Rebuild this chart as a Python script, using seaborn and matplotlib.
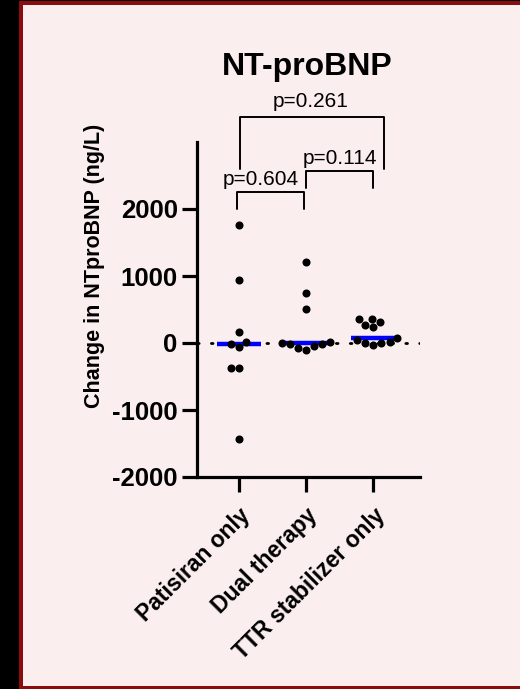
import pandas as pd
import numpy as np
import matplotlib.pyplot as plt
import matplotlib.patches as mpatches
import seaborn as sns
import warnings

warnings.filterwarnings("ignore")

# ── Data ─────────────────────────────────────────────────────────────────────
groups = ["Patisiran only", "Dual therapy", "TTR stabilizer only"]
patisiran = [1766, 943, 169, 15, -20, -55, -370, -380, -1433]
dual = [1213, 753, 509, 10, 5, -15, -15, -50, -70, -105]
ttr = [363, 353, 310, 270, 240, 80, 45, 20, 5, -5, -25]

# pairwise comparisons: (group a, group b, p label)
comparisons = [(0, 1, "p=0.604"), (1, 2, "p=0.114"), (0, 2, "p=0.261")]

df = pd.DataFrame({
    "group": [groups[0]] * len(patisiran) + [groups[1]] * len(dual) + [groups[2]] * len(ttr),
    "change": patisiran + dual + ttr,
})

# ── Style ────────────────────────────────────────────────────────────────────
sns.set_theme(style="ticks")
plt.rcParams["font.family"] = ["Liberation Sans", "DejaVu Sans"]
plt.rcParams.update({
    "text.color": "black",
    "axes.labelcolor": "black",
    "xtick.color": "black",
    "ytick.color": "black",
    "axes.unicode_minus": False,
})

W, H = 520, 689
fig = plt.figure(figsize=(W / 100, H / 100), dpi=100)
fig.patch.set_facecolor("black")

# dark red frame + pink panel (runs off the right edge, so no frame there)
fig.add_artist(mpatches.Rectangle((19 / W, 0), 1.0, 1 - 1 / H, lw=0,
                                  transform=fig.transFigure, facecolor="#8a0c0c", zorder=-10))
fig.add_artist(mpatches.Rectangle((23 / W, 3 / H), 1.0, (686 - 5) / H, lw=0,
                                  transform=fig.transFigure, facecolor="#fbeeee", zorder=-9))

ax = fig.add_axes([196.5 / W, (H - 477) / H, (420 - 196.5) / W, (477 - 142) / H])
ax.set_facecolor("none")

# dotted zero line
ax.axhline(0, color="black", lw=2, ls=(0, (0.6, 4.4)), dash_capstyle="round", zorder=1)

# median bars
med = df.groupby("group")["change"].median().reindex(groups)
ax.hlines(med.values, np.arange(3) - 0.335, np.arange(3) + 0.335,
          color="#0000ff", lw=3.2, zorder=2)

sns.swarmplot(data=df, x="group", y="change", order=groups, color="black",
              size=5.8, ax=ax, zorder=3)

ax.set_xlim(-0.634, 2.70)
ax.set_ylim(-2000, 3000)
ax.set_yticks([-2000, -1000, 0, 1000, 2000])
ax.set_xlabel("")
ax.set_ylabel("Change in NTproBNP (ng/L)", fontsize=15.5, fontweight="bold")
ax.yaxis.set_label_coords(-0.41, 0.63)

sns.despine(ax=ax)
for s in ["left", "bottom"]:
    ax.spines[s].set_linewidth(2.3)
    ax.spines[s].set_color("black")
ax.tick_params(axis="both", width=2.3, length=10.5, color="black")
ax.tick_params(axis="y", labelsize=18.5, pad=3)
ax.tick_params(axis="x", labelsize=16.5, pad=9)
for lab in ax.get_yticklabels():
    lab.set_fontweight("bold")
for lab in ax.get_xticklabels():
    lab.set_fontweight("bold")
    lab.set_rotation(45)
    lab.set_ha("right")
    lab.set_va("top")
    lab.set_rotation_mode("anchor")

# significance brackets
bracket_specs = [
    # (x left, x right, top, leg bottom, text x, text y)
    (-0.03, 0.97, 2250, 2000, 0.33, 2440),
    (0.995, 2.0, 2565, 2320, 1.51, 2760),
    (0.015, 2.16, 3370, 2600, 1.07, 3610),
]
for (a, b, label), (x0, x1, top, bot, tx, ty) in zip(comparisons, bracket_specs):
    ax.plot([x0, x0, x1, x1], [bot, top, top, bot], color="black", lw=1.4, clip_on=False)
    ax.text(tx, ty, label, ha="center", va="center", fontsize=15, clip_on=False)

fig.text(307 / W, 1 - 67 / H, "NT-proBNP", ha="center", va="center",
         fontsize=23, fontweight="bold")

plt.savefig("out.png", dpi=100, facecolor=fig.get_facecolor())
plt.close()
